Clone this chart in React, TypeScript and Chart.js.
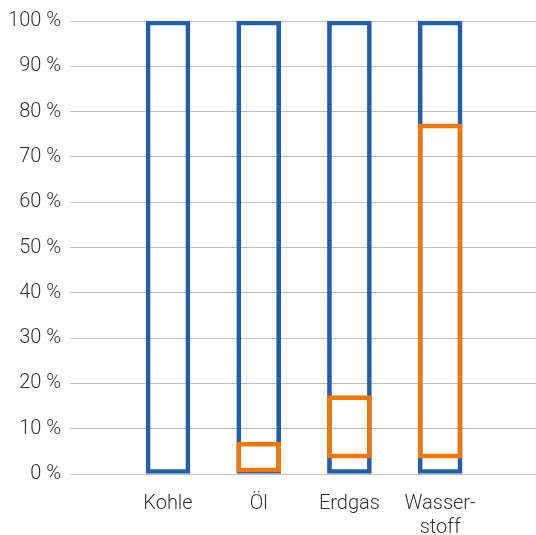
import React, { useEffect, useRef } from "react";
import { Chart, registerables } from "chart.js";

Chart.register(...registerables);

const categories: (string | string[])[] = ["Kohle", "Öl", "Erdgas", ["Wasser-", "stoff"]];
const totalRange: [number, number][] = [
  [0, 100],
  [0, 100],
  [0, 100],
  [0, 100],
];
const shareRange: ([number, number] | null)[] = [null, [0.4, 7], [3.5, 17.3], [3.5, 77.3]];
const yTicks: number[] = [0, 10, 20, 30, 40, 50, 60, 70, 80, 90, 100];

const BLUE = "#255EA8";
const ORANGE = "#F07800";
const TEXT = "#333333";
const GRID = "#BDBDBD";

export default function App() {
  const ref = useRef<HTMLCanvasElement | null>(null);

  useEffect(() => {
    if (!ref.current) return;
    const font = { family: "Roboto", size: 20, weight: 300 as any, lineHeight: 1.2 };
    const chart = new Chart(ref.current, {
      type: "bar",
      data: {
        datasets: [
          {
            label: "share",
            data: shareRange
              .map((r, i) => (r ? { x: i, y: r } : null))
              .filter((d) => d !== null) as any,
            backgroundColor: "rgba(255,255,255,0)",
            borderColor: ORANGE,
            borderWidth: 4,
            borderSkipped: false,
            barThickness: 44,
            grouped: false,
            order: 0,
          },
          {
            label: "total",
            data: totalRange.map((r, i) => ({ x: i, y: r })) as any,
            backgroundColor: "rgba(255,255,255,0)",
            borderColor: BLUE,
            borderWidth: 4,
            borderSkipped: false,
            barThickness: 44,
            grouped: false,
            order: 1,
          },
        ],
      },
      options: {
        animation: false,
        responsive: false,
        maintainAspectRatio: false,
        devicePixelRatio: 1,
        layout: { padding: { top: 20, left: 0, right: 0, bottom: 0 } },
        plugins: {
          legend: { display: false },
          tooltip: { enabled: false },
        },
        scales: {
          x: {
            type: "linear",
            offset: false,
            min: -1.0805,
            max: 4.057,
            grid: { display: false, drawTicks: false, offset: false },
            border: { display: false },
            afterBuildTicks: (scale: any) => {
              scale.ticks = categories.map((_, i) => ({ value: i }));
            },
            afterFit: (scale: any) => {
              scale.height = 61;
            },
            ticks: {
              padding: 18,
              color: TEXT,
              font,
              autoSkip: false,
              maxRotation: 0,
              callback: (v: any) => {
                const i = Math.round(Number(v));
                return categories[i] ?? "";
              },
            },
          },
          y: {
            type: "linear",
            min: yTicks[0],
            max: yTicks[yTicks.length - 1],
            grid: { color: GRID, lineWidth: 1, drawTicks: false },
            border: { display: false },
            afterFit: (scale: any) => {
              scale.width = 70;
            },
            ticks: {
              stepSize: 10,
              padding: 9,
              color: TEXT,
              font,
              callback: (v: any) => `${v} %`,
            },
          },
        },
      },
    });
    return () => chart.destroy();
  }, []);

  return (
    <div style={{ position: "absolute", left: 0, top: 0, width: 536, height: 535, background: "#fff" }}>
      <canvas ref={ref} width={536} height={535} style={{ display: "block" }} />
    </div>
  );
}
